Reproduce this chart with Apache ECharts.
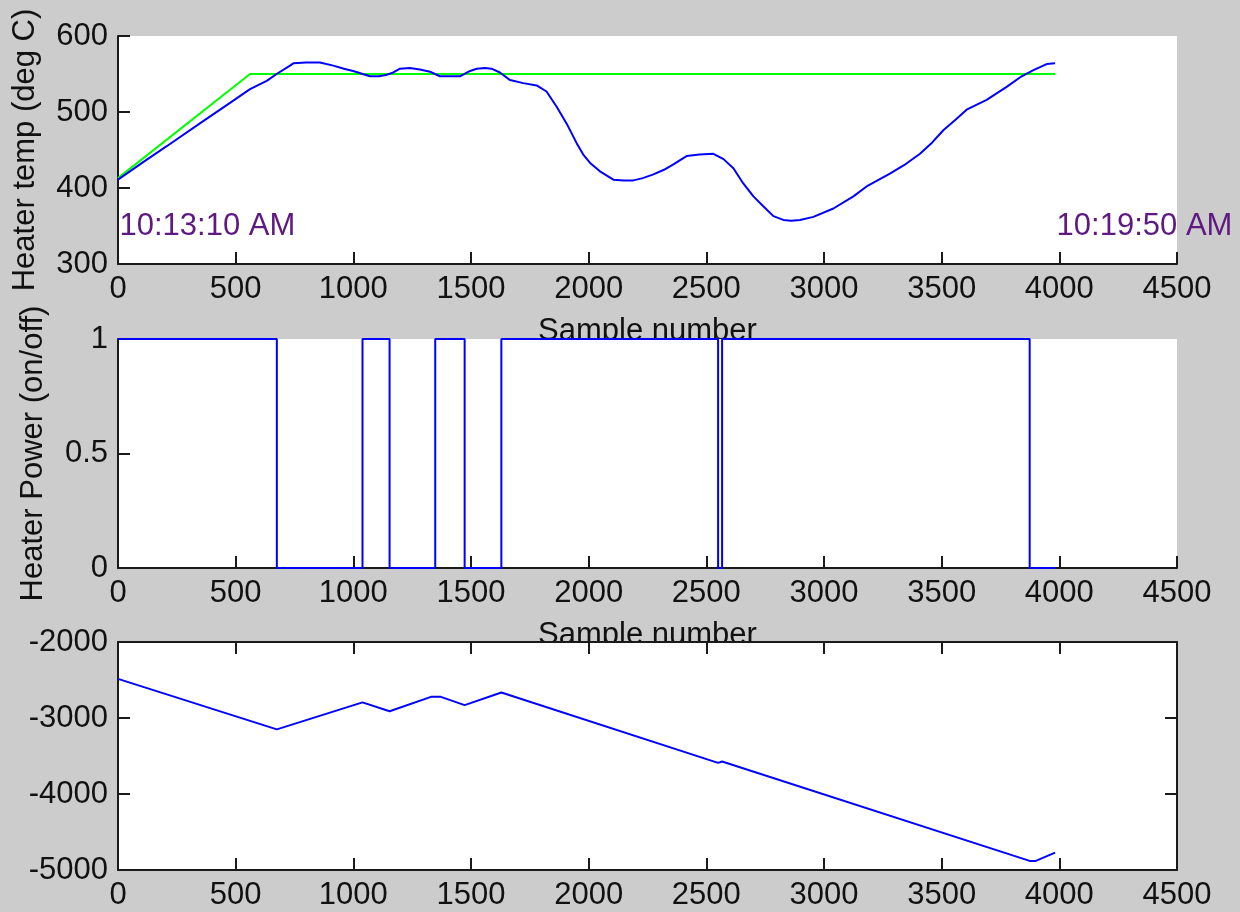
<!DOCTYPE html>
<html>
<head>
<meta charset="utf-8">
<script src="https://cdn.jsdelivr.net/npm/echarts@6/dist/echarts.min.js"></script>
<style>
  html, body { margin: 0; padding: 0; background: #cccccc; }
  #chart { width: 1240px; height: 912px; }
</style>
</head>
<body>
<div id="chart"></div>
<script>
// ---------- DATA ----------
const xTicks = [0, 500, 1000, 1500, 2000, 2500, 3000, 3500, 4000, 4500];

// Heater temperature (blue), sample number vs deg C
const tempX = [0, 107, 207, 348, 490, 561, 632, 674, 731, 745, 800, 858, 915, 960, 999, 1040, 1071, 1110, 1142, 1170, 1198, 1240,
  1283, 1326, 1368, 1410, 1453, 1496, 1524, 1560, 1587, 1623, 1666, 1722, 1779, 1821, 1864, 1906, 1949, 1977, 2006, 2048, 2105,
  2150, 2190, 2230, 2275, 2320, 2360, 2416, 2470, 2530, 2573, 2615, 2657, 2700, 2742, 2785, 2827, 2860, 2898, 2955, 3040, 3125,
  3181, 3280, 3340, 3408, 3460, 3507, 3560, 3606, 3691, 3776, 3840, 3890, 3946, 3982];
const tempVal = [411, 434, 455, 485, 515, 530, 541, 550, 561, 564, 565, 565, 561, 557, 554, 550, 547, 547, 549, 552, 557, 558,
  556, 553, 547, 547, 547, 554, 557, 558, 557, 552, 542, 538, 535, 527, 507, 485, 459, 444, 433, 422, 411,
  410, 410, 413, 418, 424, 431, 442, 444, 445, 438, 426, 406, 389, 376, 363, 358, 357, 358, 362, 373, 389,
  402, 419, 430, 445, 460, 476, 490, 503, 516, 533, 547, 555, 563, 564];

// Temperature setpoint (green)
const setX = [0, 561, 3982];
const setVal = [413, 550, 550];

// Heater power on/off (state starting at each sample number)
const powerX = [0, 675, 1039, 1154, 1348, 1473, 1629, 2550, 2567, 3874, 3982];
const powerVal = [1, 0, 1, 0, 1, 0, 1, 0, 1, 0, 0];

// Third panel (accumulated value)
const accX = [0, 675, 1039, 1154, 1330, 1372, 1473, 1629, 2550, 2567, 3874, 3900, 3982];
const accVal = [-2485, -3150, -2795, -2912, -2722, -2722, -2830, -2665, -3590, -3573, -4880, -4880, -4772];

// Time annotations
const timeLabels = ['10:13:10 AM', '10:19:50 AM'];
const timeX = [0, 3982];
const timeY = 350;

// ---------- CHART ----------
const pairs = (xs, ys) => xs.map((x, i) => [x, ys[i]]);
const FONT = "'Liberation Sans', Arial, sans-serif";
const FS = 31;
const AX = '#1a1a1a';
const TXT = '#111111';

function xAxisCfg(grid, z, name) {
  return {
    type: 'value', gridIndex: grid, min: 0, max: 4500, interval: 500, z: z,
    axisLine: { show: true, onZero: false, lineStyle: { color: AX, width: 2 } },
    axisTick: { show: true, inside: true, length: 12, lineStyle: { color: AX, width: 2 } },
    axisLabel: { show: true, margin: 10, fontSize: FS, color: TXT, fontFamily: FONT, lineHeight: 31,
      formatter: v => xTicks.includes(v) ? String(v) : '' },
    splitLine: { show: false },
    name: name || '', nameLocation: 'middle', nameGap: 52,
    nameTextStyle: { fontSize: FS, color: TXT, fontFamily: FONT, lineHeight: 31 }
  };
}
function boxAxisX(grid, z) {
  return {
    type: 'value', gridIndex: grid, min: 0, max: 4500, interval: 500, position: 'top', z: z,
    axisLine: { show: true, onZero: false, lineStyle: { color: AX, width: 2 } },
    axisTick: { show: true, inside: true, length: 12, lineStyle: { color: AX, width: 2 } },
    axisLabel: { show: false }, splitLine: { show: false }
  };
}
function yAxisCfg(grid, z, min, max, interval, name, gap) {
  return {
    type: 'value', gridIndex: grid, min: min, max: max, interval: interval, z: z,
    axisLine: { show: true, onZero: false, lineStyle: { color: AX, width: 2 } },
    axisTick: { show: true, inside: true, length: 12, lineStyle: { color: AX, width: 2 } },
    axisLabel: { show: true, margin: 10, fontSize: FS, color: TXT, fontFamily: FONT, formatter: v => String(v) },
    splitLine: { show: false },
    name: name || '', nameLocation: 'middle', nameGap: gap || 0, nameRotate: 90,
    nameTextStyle: { fontSize: FS, color: TXT, fontFamily: FONT, lineHeight: 31 }
  };
}
function boxAxisY(grid, z, min, max, interval) {
  return {
    type: 'value', gridIndex: grid, min: min, max: max, interval: interval, position: 'right', z: z,
    axisLine: { show: true, onZero: false, lineStyle: { color: AX, width: 2 } },
    axisTick: { show: true, inside: true, length: 12, lineStyle: { color: AX, width: 2 } },
    axisLabel: { show: false }, splitLine: { show: false }
  };
}

const chart = echarts.init(document.getElementById('chart'), null, { renderer: 'canvas' });
chart.setOption({
  backgroundColor: '#cccccc',
  animation: false,
  textStyle: { fontFamily: FONT },
  grid: [
    { left: 118, top: 36, width: 1059, height: 228, show: true, backgroundColor: '#ffffff', borderWidth: 0, z: 1 },
    { left: 118, top: 339, width: 1059, height: 229, show: true, backgroundColor: '#ffffff', borderWidth: 0, z: 5 },
    { left: 118, top: 642, width: 1059, height: 228, show: true, backgroundColor: '#ffffff', borderWidth: 0, z: 8 }
  ],
  xAxis: [
    xAxisCfg(0, 3, 'Sample number'),
    xAxisCfg(1, 6, 'Sample number'),
    xAxisCfg(2, 9, ''),
    boxAxisX(2, 9)
  ],
  yAxis: [
    yAxisCfg(0, 3, 300, 600, 100, 'Heater temp (deg C)', 77),
    yAxisCfg(1, 6, 0, 1, 0.5, 'Heater Power (on/off)', 69),
    yAxisCfg(2, 9, -5000, -2000, 1000, '', 0),
    boxAxisY(2, 9, -5000, -2000, 1000)
  ],
  series: [
    {
      type: 'line', name: 'Setpoint', xAxisIndex: 0, yAxisIndex: 0, z: 4,
      data: pairs(setX, setVal), showSymbol: false, symbol: 'none',
      lineStyle: { color: '#00ff00', width: 2 }
    },
    {
      type: 'line', name: 'Heater temp', xAxisIndex: 0, yAxisIndex: 0, z: 4,
      data: pairs(tempX, tempVal), showSymbol: false, symbol: 'none',
      lineStyle: { color: '#0000ff', width: 2 },
      markPoint: {
        symbol: 'circle', symbolSize: 1, silent: true,
        itemStyle: { color: 'rgba(0,0,0,0)' },
        label: { show: true, position: 'right', distance: 1, fontSize: FS, color: '#5e1a80', fontFamily: FONT },
        data: timeLabels.map((t, i) => ({ coord: [timeX[i], timeY], label: { formatter: t } }))
      }
    },
    {
      type: 'line', name: 'Heater power', xAxisIndex: 1, yAxisIndex: 1, z: 7,
      data: pairs(powerX, powerVal), step: 'end', showSymbol: false, symbol: 'none', clip: false,
      lineStyle: { color: '#0000ff', width: 2 }
    },
    {
      type: 'line', name: 'Accumulated', xAxisIndex: 2, yAxisIndex: 2, z: 10,
      data: pairs(accX, accVal), showSymbol: false, symbol: 'none',
      lineStyle: { color: '#0000ff', width: 2 }
    }
  ]
});
</script>
</body>
</html>
